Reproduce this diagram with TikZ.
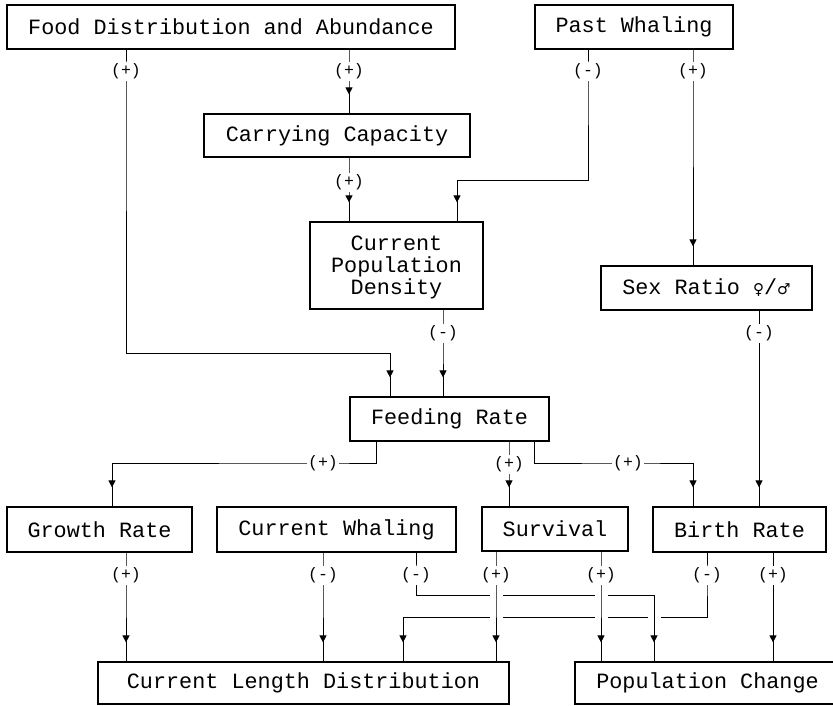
\documentclass[tikz,border=0pt]{standalone}
\usepackage{fontspec}
\setmainfont{Liberation Mono}
\newfontfamily\symbfont{DejaVu Sans}
\usetikzlibrary{arrows.meta,decorations.markings}
\pgfdeclarelayer{background}
\pgfsetlayers{background,main}

\begin{document}
\begin{tikzpicture}
	[x=1bp,y=-1bp,line cap=butt,
	%Styles
	box/.style={draw,line width=1.2bp,minimum height=44bp,inner sep=0pt,align=center,
		font=\fontsize{21.8bp}{22bp}\selectfont},
	sign/.style={fill=white,inner sep=1.5bp,font=\fontsize{16.5bp}{17bp}\selectfont},
	flow/.style={draw,line width=1bp,postaction={decorate},
		decoration={markings,mark=at position -19bp with {\arrow{Triangle[width=7bp,length=7bp]}}}},
	over/.style={preaction={draw,white,line width=13bp}}
	]
	\useasboundingbox (0,0) rectangle (833,706);
	
	%The boxes
	\node[box,minimum width=448bp] (food) at (231,27) {Food Distribution and Abundance};
	\node[box,minimum width=198bp] (past) at (634,27) {Past Whaling};
	\node[box,minimum width=266bp,minimum height=43bp] (carry) at (337,135.5) {Carrying Capacity};
	\node[box,minimum width=173bp,minimum height=87bp,text depth=-3bp] (density) at (396.5,265.5) {Current\\Population\\Density};
	\node[box,minimum width=211bp] (sexratio) at (706.5,288) {Sex Ratio {\symbfont\fontsize{15bp}{16bp}\selectfont ♀}/{\symbfont\fontsize{15bp}{16bp}\selectfont ♂}};
	\node[box,minimum width=199bp] (feed) at (449.5,419) {Feeding Rate};
	\node[box,minimum width=185bp,minimum height=45bp] (growth) at (99.5,529.5) {Growth Rate};
	\node[box,minimum width=239bp,minimum height=45bp] (cwhal) at (336.5,529.5) {Current Whaling};
	\node[box,minimum width=146bp] (surv) at (555,529) {Survival};
	\node[box,minimum width=173bp,minimum height=45bp] (birth) at (739.5,529.5) {Birth Rate};
	\node[box,minimum width=411bp,minimum height=42bp] (length) at (303.5,683) {Current Length Distribution};
	\node[box,minimum width=265bp,minimum height=42bp] (popchange) at (707.5,683) {Population Change};
	
	%The links
	\begin{pgfonlayer}{background}
	\draw[flow] (food.south -| 349,0) -- ++(0,22) node[sign]{(+)} -- (carry.north -| 349,0);
	\draw[flow] (food.south -| 126,0) -- ++(0,22) node[sign]{(+)} -- (126,353) -| (feed.north -| 390,0);
	\draw[flow] (carry.south -| 349,0) -- ++(0,25) node[sign]{(+)} -- (density.north -| 349,0);
	\draw[flow] (past.south -| 588,0) -- ++(0,22) node[sign]{(-)} -- (588,180) -| (density.north -| 457,0);
	\draw[flow] (past.south -| 693,0) -- ++(0,22) node[sign]{(+)} -- (sexratio.north -| 693,0);
	\draw[flow] (density.south -| 443,0) -- ++(0,24) node[sign]{(-)} -- (feed.north -| 443,0);
	\draw[flow] (sexratio.south -| 759,0) -- ++(0,23) node[sign]{(-)} -- (birth.north -| 759,0);
	
	\draw[flow] (feed.south -| 376,0) |- (323,463) node[sign]{(+)} -| (growth.north -| 112,0);
	\draw[flow] (feed.south -| 509,0) -- ++(0,23) node[sign]{(+)} -- (surv.north -| 509,0);
	\draw[flow] (feed.south -| 534,0) |- (628,463) node[sign]{(+)} -| (birth.north -| 693,0);
	
	\draw[flow] (growth.south -| 126,0) -- ++(0,23) node[sign]{(+)} -- (length.north -| 126,0);
	\draw[flow] (cwhal.south -| 323,0) -- ++(0,23) node[sign]{(-)} -- (length.north -| 323,0);
	\draw[flow] (birth.south -| 773,0) -- ++(0,23) node[sign]{(+)} -- (popchange.north -| 773,0);
	\draw[flow] (birth.south -| 707,0) -- ++(0,23) node[sign]{(-)} -- (707,617) -| (length.north -| 403,0);
	\draw[flow,over] (cwhal.south -| 416,0) -- ++(0,23) node[sign]{(-)} -- (416,595) -| (popchange.north -| 654,0);
	\draw[flow,over] (surv.south -| 496,0) -- ++(0,24) node[sign]{(+)} -- (length.north -| 496,0);
	\draw[flow,over] (surv.south -| 601,0) -- ++(0,24) node[sign]{(+)} -- (popchange.north -| 601,0);
	\end{pgfonlayer}
\end{tikzpicture}
\end{document}
